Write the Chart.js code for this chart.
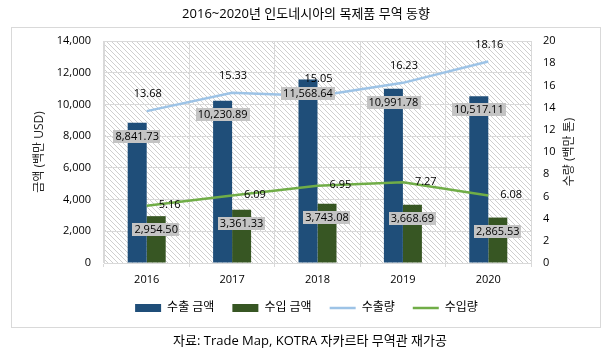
<!DOCTYPE html>
<html><head><meta charset="utf-8">
<script src="https://cdn.jsdelivr.net/npm/chart.js@4"></script>
<style>html,body{margin:0;padding:0;background:#fff}#wrap{width:610px;height:360px;position:relative}canvas{display:block}</style>
</head><body><div id="wrap"><canvas id="c" width="610" height="360"></canvas></div>
<script>
const categories = ['2016', '2017', '2018', '2019', '2020'];
const exportValue = [8841.73, 10230.89, 11568.64, 10991.78, 10517.11];
const importValue = [2954.50, 3361.33, 3743.08, 3668.69, 2865.53];
const exportVolume = [13.68, 15.33, 15.05, 16.23, 18.16];
const importVolume = [5.16, 6.09, 6.95, 7.27, 6.08];
const seriesNames = ['수출 금액', '수입 금액', '수출량', '수입량'];
const chartTitle = '2016~2020년 인도네시아의 목제품 무역 동향';
const sourceText = '자료: Trade Map, KOTRA 자카르타 무역관 재가공';
const leftAxisTitle = '금액 (백만 USD)';
const rightAxisTitle = '수량 (백만 톤)';

const FONT = "'Open Sans', 'Noto Sans CJK KR', sans-serif";
const colors = ['#1f4e79', '#375623', '#9dc3e6', '#70ad47'];

function makeHatch() {
  const p = document.createElement('canvas');
  p.width = 5; p.height = 5;
  const g = p.getContext('2d');
  g.fillStyle = '#ffffff'; g.fillRect(0, 0, 5, 5);
  g.fillStyle = '#cfcfcf';
  for (let i = 0; i < 5; i++) g.fillRect(i, i, 1, 1);
  return p;
}

const decor = {
  id: 'decor',
  beforeDraw(chart) {
    const ctx = chart.ctx, a = chart.chartArea;
    ctx.save();
    ctx.fillStyle = '#fff';
    ctx.fillRect(0, 0, chart.width, chart.height);
    ctx.strokeStyle = '#d9d9d9';
    ctx.lineWidth = 1;
    ctx.strokeRect(11.5, 27.5, 589, 300);
    ctx.fillStyle = ctx.createPattern(makeHatch(), 'repeat');
    ctx.fillRect(a.left, a.top, a.right - a.left, a.bottom - a.top);
    ctx.fillStyle = '#000';
    ctx.textAlign = 'center';
    ctx.textBaseline = 'middle';
    ctx.font = '13px ' + FONT;
    ctx.fillText(chartTitle, 306, 14);
    ctx.fillText(sourceText, 310, 341);
    ctx.font = '12px ' + FONT;
    ctx.fillStyle = '#222';
    const cy = (a.top + a.bottom) / 2;
    ctx.translate(40, cy);
    ctx.rotate(-Math.PI / 2);
    ctx.fillText(leftAxisTitle, 0, 0);
    ctx.setTransform(1, 0, 0, 1, 0, 0);
    ctx.translate(570, cy);
    ctx.rotate(-Math.PI / 2);
    ctx.fillText(rightAxisTitle, 0, 0);
    ctx.restore();
  },
  afterDatasetsDraw(chart) {
    const ctx = chart.ctx;
    ctx.save();
    ctx.font = '11px ' + FONT;
    ctx.textBaseline = 'middle';
    const fmt = v => v.toLocaleString('en-US', {minimumFractionDigits: 2, maximumFractionDigits: 2});
    [0, 1].forEach(di => {
      const meta = chart.getDatasetMeta(di);
      const vals = chart.data.datasets[di].data;
      meta.data.forEach((el, i) => {
        const t = fmt(vals[i]);
        const w = ctx.measureText(t).width + 4;
        const cx = el.x, cy = el.y + 13.5;
        ctx.fillStyle = '#c4c4c4';
        ctx.fillRect(Math.round(cx - w / 2), Math.round(cy - 6.5), Math.round(w), 13);
        ctx.fillStyle = '#000';
        ctx.textAlign = 'center';
        ctx.fillText(t, cx, cy + 0.5);
      });
    });
    const m2 = chart.getDatasetMeta(2);
    m2.data.forEach((el, i) => {
      ctx.fillStyle = '#000';
      ctx.textAlign = 'center';
      ctx.fillText(chart.data.datasets[2].data[i].toFixed(2), el.x + 1, el.y - 17);
    });
    const m3 = chart.getDatasetMeta(3);
    m3.data.forEach((el, i) => {
      ctx.fillStyle = '#000';
      ctx.textAlign = 'left';
      ctx.fillText(chart.data.datasets[3].data[i].toFixed(2), el.x + 12, el.y - 0.5);
    });
    ctx.restore();
  }
};

new Chart(document.getElementById('c'), {
  type: 'bar',
  data: {
    labels: categories,
    datasets: [
      {label: seriesNames[0], data: exportValue, backgroundColor: colors[0], yAxisID: 'y', order: 2,
       categoryPercentage: 0.445, barPercentage: 1},
      {label: seriesNames[1], data: importValue, backgroundColor: colors[1], yAxisID: 'y', order: 2,
       categoryPercentage: 0.445, barPercentage: 1},
      {type: 'line', label: seriesNames[2], data: exportVolume, borderColor: colors[2], backgroundColor: colors[2],
       borderWidth: 2.5, pointRadius: 0, tension: 0, yAxisID: 'y1', order: 0},
      {type: 'line', label: seriesNames[3], data: importVolume, borderColor: colors[3], backgroundColor: colors[3],
       borderWidth: 2.5, pointRadius: 0, tension: 0, yAxisID: 'y1', order: 0}
    ]
  },
  options: {
    responsive: false,
    animation: false,
    devicePixelRatio: 1,
    layout: {padding: {left: 12, right: 9, top: 41, bottom: 36}},
    plugins: {
      title: {display: false},
      tooltip: {enabled: false},
      legend: {
        display: true,
        position: 'bottom',
        labels: {
          usePointStyle: true,
          pointStyleWidth: 26,
          boxHeight: 8,
          padding: 18,
          color: '#000',
          font: {size: 12, family: FONT},
          generateLabels(chart) {
            return chart.data.datasets.map((ds, i) => ({
              text: ds.label,
              fillStyle: i < 2 ? ds.backgroundColor : 'transparent',
              strokeStyle: ds.borderColor || ds.backgroundColor,
              lineWidth: i < 2 ? 0 : 2.5,
              pointStyle: i < 2 ? 'rect' : 'line',
              hidden: false,
              datasetIndex: i
            }));
          }
        }
      }
    },
    scales: {
      x: {
        offset: true,
        grid: {display: true, offset: true, color: '#d9d9d9', tickLength: 4, drawTicks: true},
        border: {color: '#d9d9d9'},
        ticks: {color: '#000', font: {size: 11, family: FONT}, padding: 6},
        afterFit(s) { s.height = 21; }
      },
      y: {
        position: 'left',
        min: 0, max: 14000,
        grid: {color: '#d9d9d9', drawTicks: false},
        border: {display: true, color: '#d9d9d9'},
        ticks: {stepSize: 2000, color: '#000', font: {size: 11, family: FONT}, padding: 13,
                callback: v => v.toLocaleString('en-US')},
        afterFit(s) { s.width = 92; }
      },
      y1: {
        position: 'right',
        min: 0, max: 20,
        grid: {drawOnChartArea: false, drawTicks: false},
        border: {display: true, color: '#d9d9d9'},
        ticks: {stepSize: 2, color: '#000', font: {size: 11, family: FONT}, padding: 12},
        afterFit(s) { s.width = 70; }
      }
    }
  },
  plugins: [decor]
});
</script>
</body></html>
